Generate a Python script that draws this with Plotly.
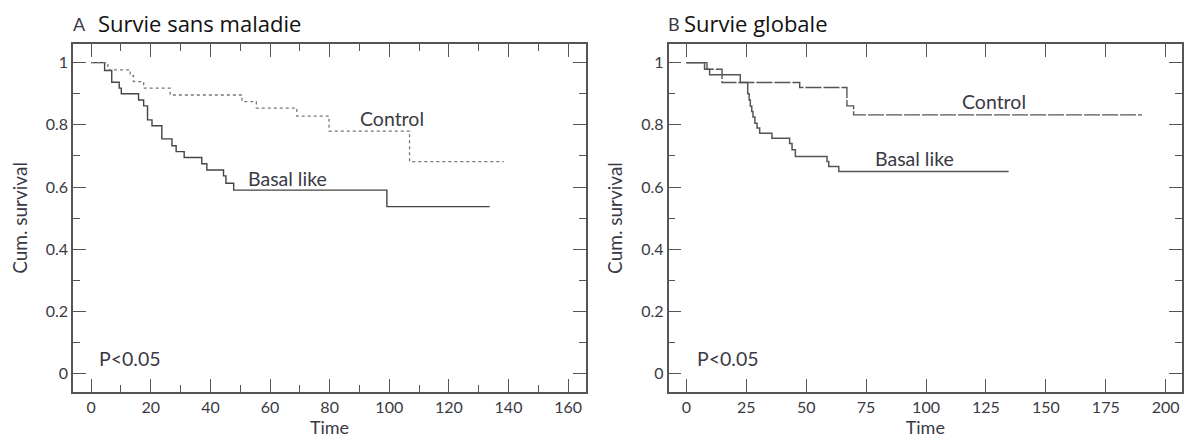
import plotly.graph_objects as go

# ---------------- data ----------------
# Panel A : Survie sans maladie (disease-free survival)
basal_dfs_time = [0, 4.5, 6.9, 9.4, 10.1, 15.9, 17.6, 18.9, 20.4, 23.7, 27.1, 28.5,
                  31.2, 37.1, 38.8, 44.4, 45.2, 47.8, 99.2, 133.7]
basal_dfs_surv = [1.0, 0.975, 0.937, 0.918, 0.900, 0.880, 0.861, 0.816, 0.797, 0.755,
                  0.733, 0.714, 0.695, 0.675, 0.655, 0.636, 0.612, 0.590, 0.537, 0.537]
control_dfs_time = [0, 5.6, 13.1, 14.2, 17.6, 26.5, 50.6, 55.4, 69.0, 79.8, 106.8, 138.4]
control_dfs_surv = [1.0, 0.977, 0.958, 0.939, 0.918, 0.896, 0.875, 0.854, 0.828, 0.780,
                    0.682, 0.682]

# Panel B : Survie globale (overall survival)
basal_os_time = [0, 7.6, 9.7, 22.5, 25.6, 26.2, 26.7, 27.3, 27.8, 28.6, 29.5, 30.6,
                 35.7, 43.1, 44.1, 45.5, 58.7, 59.4, 63.6, 134.5]
basal_os_surv = [1.0, 0.979, 0.961, 0.936, 0.900, 0.880, 0.860, 0.843, 0.825, 0.805,
                 0.790, 0.773, 0.757, 0.740, 0.720, 0.698, 0.682, 0.666, 0.650, 0.650]
control_os_time = [0, 8.6, 14.9, 47.3, 67.0, 69.8, 190.1]
control_os_surv = [1.0, 0.979, 0.936, 0.920, 0.861, 0.832, 0.832]

# ticks
x_ticks_dfs = [0, 20, 40, 60, 80, 100, 120, 140, 160]
x_minor_dfs = [10, 30, 50, 70, 90, 110, 130, 150]
x_ticks_os = [0, 25, 50, 75, 100, 125, 150, 175, 200]
y_ticks = [0, 0.2, 0.4, 0.6, 0.8, 1.0]
y_tick_labels = ["0", "0.2", "0.4", "0.6", "0.8", "1"]
y_minor = [0.1, 0.3, 0.5, 0.7, 0.9]

# texts
panel_letters = ["A", "B"]
panel_titles = ["Survie sans maladie", "Survie globale"]
series_names = ["Basal like", "Control"]
p_text = "P<0.05"
x_title = "Time"
y_title = "Cum. survival"

# ---------------- layout geometry ----------------
# the page body adds an 8px offset; figure coordinates = page coordinates - 8
OFF = 8
W, H = 1176, 431
ML, MR, MT, MB = 72.7 - OFF, 2.3, 44 - OFF, 47.3
PW = W - ML - MR
PH = H - MT - MB


def dom(x0, x1):
    # x0, x1 in page pixels
    return [max(0.0, (x0 - OFF - ML) / PW), min(1.0, (x1 - OFF - ML) / PW)]


def paper_x(px):
    # px in page pixels
    return (px - OFF - ML) / PW


def paper_y(py):
    return (H - MB - (py - OFF)) / PH


TXT = "#3a3a44"
LINE = "#555555"
FONT = "Lato"

fig = go.Figure()

# Panel A
fig.add_trace(go.Scatter(x=basal_dfs_time, y=basal_dfs_surv, mode="lines",
                         line=dict(shape="hv", color="#444444", width=1.4),
                         name=series_names[0], xaxis="x", yaxis="y"))
fig.add_trace(go.Scatter(x=control_dfs_time, y=control_dfs_surv, mode="lines",
                         line=dict(shape="hv", color="#777777", width=1.3, dash="dot"),
                         name=series_names[1], xaxis="x", yaxis="y"))
# Panel B
fig.add_trace(go.Scatter(x=basal_os_time, y=basal_os_surv, mode="lines",
                         line=dict(shape="hv", color="#555555", width=1.5),
                         name=series_names[0], xaxis="x2", yaxis="y2"))
fig.add_trace(go.Scatter(x=control_os_time, y=control_os_surv, mode="lines",
                         line=dict(shape="hv", color="#555555", width=1.4, dash="16px,2px"),
                         name=series_names[1], xaxis="x2", yaxis="y2"))

common_axis = dict(showline=True, linecolor=LINE, linewidth=1.5, mirror="allticks",
                   ticks="inside", ticklen=13, tickwidth=1.3, tickcolor=LINE,
                   showgrid=False, zeroline=False, automargin=False,
                   tickfont=dict(family=FONT, size=16, color=TXT))
xtitle_font = dict(family=FONT, size=18, color=TXT)
ytitle_font = dict(family=FONT, size=19, color=TXT)

fig.update_layout(
    width=W, height=H,
    margin=dict(l=ML, r=MR, t=MT, b=MB),
    paper_bgcolor="white", plot_bgcolor="white",
    showlegend=False,
    xaxis=dict(common_axis, domain=dom(72.7, 585.7), range=[-6.1, 166],
               tickmode="array", tickvals=x_ticks_dfs, ticktext=[str(v) for v in x_ticks_dfs],
               minor=dict(tickmode="array", tickvals=x_minor_dfs, ticks="inside",
                          ticklen=7, tickwidth=1.2, tickcolor=LINE),
               title=dict(text=x_title, font=xtitle_font, standoff=0),
               anchor="y"),
    yaxis=dict(common_axis, domain=[0, 1], range=[-0.059, 1.06],
               tickmode="array", tickvals=y_ticks, ticktext=y_tick_labels,
               minor=dict(tickmode="array", tickvals=y_minor, ticks="inside",
                          ticklen=7, tickwidth=1.2, tickcolor=LINE),
               title=dict(text=y_title, font=ytitle_font, standoff=14),
               anchor="x"),
    xaxis2=dict(common_axis, domain=dom(668.3, 1181.7), range=[-7.4, 206.8],
                tickmode="array", tickvals=x_ticks_os, ticktext=[str(v) for v in x_ticks_os],
                title=dict(text=x_title, font=xtitle_font, standoff=0),
                anchor="y2"),
    yaxis2=dict(common_axis, domain=[0, 1], range=[-0.059, 1.06],
                tickmode="array", tickvals=y_ticks, ticktext=y_tick_labels,
                minor=dict(tickmode="array", tickvals=y_minor, ticks="inside",
                           ticklen=7, tickwidth=1.2, tickcolor=LINE),
                title=dict(text=y_title, font=ytitle_font, standoff=14),
                anchor="x2"),
)

ann_font = dict(family=FONT, size=19.5, color=TXT)
annotations = [
    dict(x=101, y=0.822, xref="x", yref="y", text=series_names[1], showarrow=False, font=ann_font),
    dict(x=65.9, y=0.628, xref="x", yref="y", text=series_names[0], showarrow=False, font=ann_font),
    dict(x=1.9, y=0.048, xref="x", yref="y", text=p_text, showarrow=False, font=ann_font,
         xanchor="left"),
    dict(x=128.5, y=0.876, xref="x2", yref="y2", text=series_names[1], showarrow=False, font=ann_font),
    dict(x=95.1, y=0.693, xref="x2", yref="y2", text=series_names[0], showarrow=False, font=ann_font),
    dict(x=3.6, y=0.048, xref="x2", yref="y2", text=p_text, showarrow=False, font=ann_font,
         xanchor="left"),
]

# (letter x, title x) in page pixels
title_specs = [(72, 97, panel_letters[0], panel_titles[0]),
               (667, 683, panel_letters[1], panel_titles[1])]
for lx, tx, letter, title in title_specs:
    annotations.append(dict(x=paper_x(lx), y=paper_y(36), xref="paper", yref="paper",
                            text=letter, showarrow=False, xanchor="left", yanchor="bottom",
                            borderpad=0, font=dict(family=FONT, size=18, color=TXT)))
    annotations.append(dict(x=paper_x(tx), y=paper_y(39), xref="paper", yref="paper",
                            text=title, showarrow=False, xanchor="left", yanchor="bottom",
                            borderpad=0, font=dict(family="Open Sans", size=22, color="#111111")))

fig.update_layout(annotations=annotations)

fig.write_html("out.html")
